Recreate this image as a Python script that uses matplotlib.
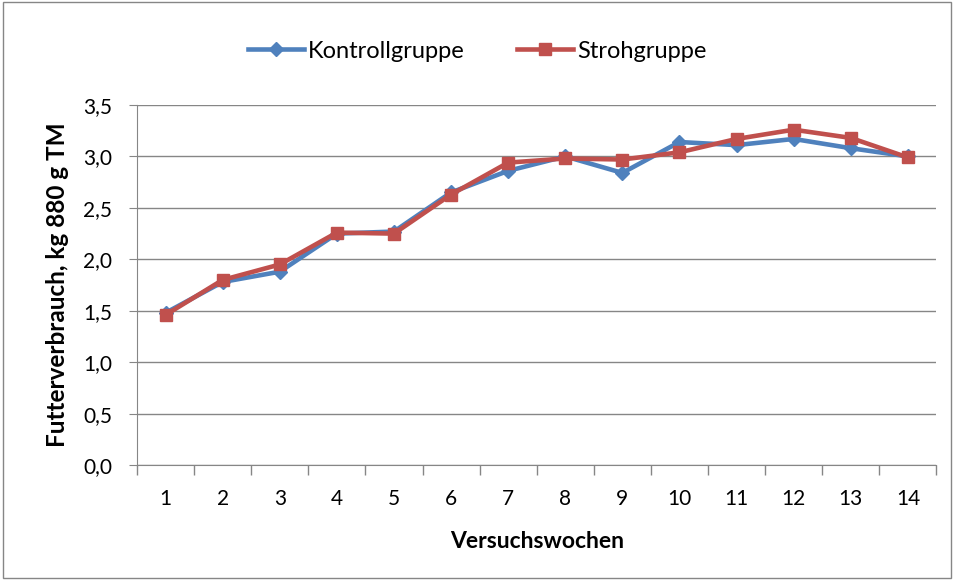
import matplotlib.pyplot as plt
from matplotlib.patches import Rectangle
from matplotlib.ticker import FixedLocator

plt.rcParams['font.family'] = ['Lato', 'DejaVu Sans']

wochen = list(range(1, 15))
kontroll = [1.48, 1.78, 1.88, 2.25, 2.27, 2.65, 2.86, 3.00, 2.84, 3.14, 3.11, 3.17, 3.08, 3.00]
stroh = [1.46, 1.80, 1.95, 2.26, 2.25, 2.63, 2.94, 2.98, 2.97, 3.04, 3.17, 3.26, 3.18, 2.99]
y_ticks = [0.0, 0.5, 1.0, 1.5, 2.0, 2.5, 3.0, 3.5]

fig = plt.figure(figsize=(9.54, 5.8), dpi=100)
ax = fig.add_axes([0.1436, 0.198, 0.838, 0.621])

ax.plot(wochen, kontroll, color='#4F81BD', lw=3.3, marker='D', ms=7,
        label='Kontrollgruppe', zorder=3)
ax.plot(wochen, stroh, color='#C0504D', lw=3.3, marker='s', ms=9,
        label='Strohgruppe', zorder=4)

ax.set_xlim(0.5, 14.5)
ax.set_ylim(0, 3.5)
ax.set_yticks(y_ticks)
ax.set_yticklabels([('%.1f' % v).replace('.', ',') for v in y_ticks])
ax.set_xticks(wochen)
ax.xaxis.set_minor_locator(FixedLocator([i + 0.5 for i in range(0, 15)]))
ax.tick_params(axis='x', which='major', length=0, labelsize=15, pad=17)
ax.tick_params(axis='x', which='minor', length=7, color='#868686', width=1, direction='out')
ax.tick_params(axis='y', length=6, color='#868686', labelsize=15, pad=12)
ax.grid(axis='y', color='#868686', lw=1)
ax.set_axisbelow(True)
for s in ['top', 'right']:
    ax.spines[s].set_visible(False)
for s in ['left', 'bottom']:
    ax.spines[s].set_color('#868686')

ax.set_xlabel('Versuchswochen', fontsize=16.5, fontweight='bold', labelpad=16)
ax.set_ylabel('Futterverbrauch, kg 880 g TM', fontsize=17.5, fontweight='bold', labelpad=10)

fig.legend(loc='center', bbox_to_anchor=(0.5, 0.912), ncol=2, frameon=False,
           fontsize=17, handlelength=2.4, columnspacing=2.2, handletextpad=0.15)

fig.patches.append(Rectangle((0.003, 0.003), 0.994, 0.994, transform=fig.transFigure,
                             fill=False, edgecolor='#868686', lw=1))

fig.savefig('out.png', dpi=100)
